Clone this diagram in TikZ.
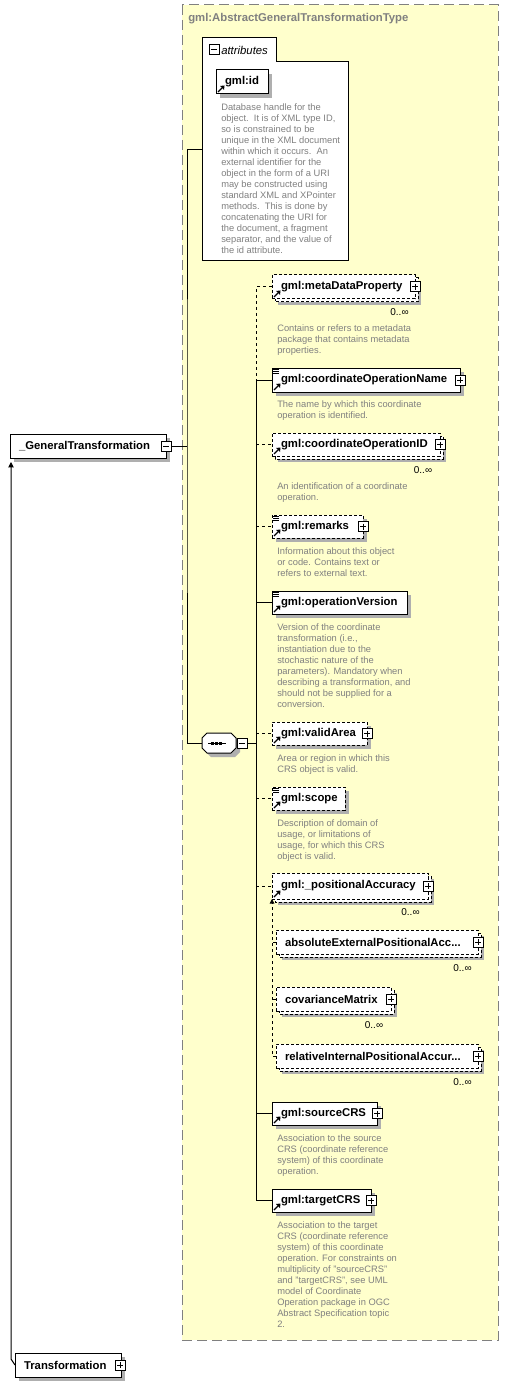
\documentclass[tikz,border=0pt]{standalone}
\usepackage{fontspec}
\setmainfont{Liberation Sans}
\usetikzlibrary{arrows.meta}
\definecolor{yel}{RGB}{255,255,204}
\definecolor{frame}{RGB}{128,128,128}
\definecolor{shgray}{RGB}{175,175,175}
\definecolor{desc}{RGB}{128,128,128}
\newcommand\elfont{\fontsize{8.5}{10}\selectfont\bfseries}
\newcommand\refmark[1]{%
 \draw[line width=0.9pt] ([shift={(2,-2)}]#1.south west) -- ([shift={(6,-6)}]#1.south west);
 \fill ([shift={(4,-8)}]#1.south west) -- ([shift={(8.5,-8.5)}]#1.south west) -- ([shift={(8,-4)}]#1.south west) -- cycle;}
\newcommand\simplemark[1]{%
 \foreach \dy in {1,3,5} {\draw[line width=0.6pt] ([shift={(1,\dy)}]#1.north west) -- ([shift={(7,\dy)}]#1.north west);}}
% shadow of a box: x, y, x2, y2 in px (front box), offset
\newcommand\boxshadow[5]{\fill[shgray] (#1+#5,#2+#5) rectangle (#3+#5,#4+#5);}
\newcommand\backbox[4]{\filldraw[fill=white, line width=0.75pt, dash pattern=on 2.25pt off 1.5pt] (#1+3,#2+3) rectangle (#3+3,#4+3);}
\tikzset{
 el/.style={draw, fill=white, anchor=north west, inner xsep=6.75pt, inner ysep=0pt, outer sep=0pt, align=left, font=\elfont, line width=0.75pt},
 opt/.style={dash pattern=on 2.25pt off 1.5pt},
 pbox/.style={draw, fill=white, minimum size=7.5pt, inner sep=0pt, line width=0.75pt,
   path picture={\draw[line width=0.75pt] ([xshift=1.5pt]path picture bounding box.west) -- ([xshift=-1.5pt]path picture bounding box.east);
                 \draw[line width=0.75pt] ([yshift=-1.5pt]path picture bounding box.north) -- ([yshift=1.5pt]path picture bounding box.south);}},
 mbox/.style={draw, fill=white, minimum size=7.5pt, inner sep=0pt, line width=0.75pt,
   path picture={\draw[line width=0.75pt] ([xshift=1.5pt]path picture bounding box.west) -- ([xshift=-1.5pt]path picture bounding box.east);}},
 dsc/.style={anchor=north west, inner sep=0pt, align=left, text=desc, font=\fontsize{7}{8.25}\selectfont},
 mult/.style={inner sep=0pt, font=\fontsize{7.5}{9}\selectfont},
 conn/.style={line width=0.75pt},
 oconn/.style={line width=0.75pt, dash pattern=on 2.25pt off 2.25pt},
}
\begin{document}
\begin{tikzpicture}[x=0.75pt,y=-0.75pt]
\useasboundingbox (0,0) rectangle (509,1387);
\filldraw[fill=yel, draw=frame, dash pattern=on 7.5pt off 3.75pt, line width=0.75pt] (182,5) rectangle (498,1340);
\filldraw[fill=white, line width=0.75pt] (202,261) -- (202,38) -- (276,38) -- (276,62) -- (348,62) -- (348,261) -- cycle;
\node[anchor=west, inner sep=0pt, text=frame, font=\elfont] (title) at (188,19) {gml:AbstractGeneralTransformationType};
% attributes
\node[mbox] (attrM) at (214,50) {};
\node[anchor=west, inner sep=0pt, font=\fontsize{8.5}{10}\selectfont\itshape] (attrT) at (221,50) {attributes};
\coordinate (attrW) at (202,150);
\boxshadow{216}{70}{268}{94}{4}
\node[el, text width=25.5pt, minimum height=18pt] (id) at (216,70) {gml:id};
\refmark{id}
\node[dsc] (idD) at (221,103) {Database handle for the\\object.\ \ It is of XML type ID,\\so is constrained to be\\unique in the XML document\\within which it occurs.\ \ An\\external identifier for the\\object in the form of a URI\\may be constructed using\\standard XML and XPointer\\methods.\ \ This is done by\\concatenating the URI for\\the document, a fragment\\separator, and the value of\\the id attribute.};
% root elements
\boxshadow{10}{434}{166}{458}{4}
\node[el, text width=103.5pt, minimum height=18pt] (gentr) at (10,434) {\_GeneralTransformation};
\node[mbox] (gentrM) at (gentr.east) {};
\boxshadow{15}{1353}{121}{1377}{4}
\node[el, text width=66pt, minimum height=18pt] (trans) at (15,1353) {Transformation};
\node[pbox] (transP) at ([xshift=-0.75pt]trans.east) {};
% sequence
\node[minimum width=25.5pt, minimum height=15pt, inner sep=0pt] (seq) at (219,743) {};
\fill[shgray] (211,737) -- (235,737) -- (240,742) -- (240,752) -- (235,757) -- (211,757) -- (206,752) -- (206,742) -- cycle;
\filldraw[fill=white, line width=0.75pt] (207,733) -- (231,733) -- (236,738) -- (236,748) -- (231,753) -- (207,753) -- (202,748) -- (202,738) -- cycle;
\draw[line width=0.75pt] (208,743) -- (226,743);
\foreach \dx in {212,216,220} {\fill (\dx-1.5,741.5) rectangle (\dx+1.5,744.5);}
\node[mbox] (seqM) at (242,743) {};
\coordinate (bus) at (187,446);
\coordinate (bus2) at (256,743);
\draw[conn] (gentrM.east) -- (bus);
\draw[conn] (attrW) -| (bus) |- (seq.west);
\draw[conn] (seqM.east) -- (bus2);
% children
\boxshadow{272}{275}{415}{299}{6}\backbox{272}{275}{415}{299}
\node[el, opt, text width=93.75pt, minimum height=18pt] (meta) at (272,275) {gml:metaDataProperty};
\node[pbox] (metaP) at (meta.east) {};
\refmark{meta}
\node[mult] (metaM) at (399.5,312) {0..∞};
\node[dsc] (metaD) at (277,324.5) {Contains or refers to a metadata\\package that contains metadata\\properties.};

\boxshadow{272}{368}{460}{392}{4}
\node[el, text width=127.5pt, minimum height=18pt] (conopname) at (272,368) {gml:coordinateOperationName};
\node[pbox] (conopnameP) at (conopname.east) {};
\refmark{conopname}\simplemark{conopname}
\node[dsc] (conopnameD) at (277,400.5) {The name by which this coordinate\\operation is identified.};

\boxshadow{272}{433}{440}{456}{6}\backbox{272}{433}{440}{456}
\node[el, opt, text width=112.5pt, minimum height=17.25pt] (conopid) at (272,433) {gml:coordinateOperationID};
\node[pbox] (conopidP) at (conopid.east) {};
\refmark{conopid}
\node[mult] (conopidM) at (423,470) {0..∞};
\node[dsc] (conopidD) at (277,482.5) {An identification of a coordinate\\operation.};

\boxshadow{272}{515}{363}{538}{4}
\node[el, opt, text width=54.75pt, minimum height=17.25pt] (remarks) at (272,515) {gml:remarks};
\node[pbox] (remarksP) at (remarks.east) {};
\refmark{remarks}\simplemark{remarks}
\node[dsc] (remarksD) at (277,547.5) {Information about this object\\or code. Contains text or\\refers to external text.};

\boxshadow{272}{591}{407}{614}{4}
\node[el, text width=87.75pt, minimum height=17.25pt] (opver) at (272,591) {gml:operationVersion};
\refmark{opver}\simplemark{opver}
\node[dsc] (opverD) at (277,623.5) {Version of the coordinate\\transformation (i.e.,\\instantiation due to the\\stochastic nature of the\\parameters). Mandatory when\\describing a transformation, and\\should not be supplied for a\\conversion.};

\boxshadow{272}{722}{367}{745}{4}
\node[el, opt, text width=57.75pt, minimum height=17.25pt] (validarea) at (272,722) {gml:validArea};
\node[pbox] (validareaP) at (validarea.east) {};
\refmark{validarea}
\node[dsc] (validareaD) at (277,754.5) {Area or region in which this\\CRS object is valid.};

\boxshadow{272}{787}{345}{810}{4}
\node[el, opt, text width=41.25pt, minimum height=17.25pt] (scope) at (272,787) {gml:scope};
\refmark{scope}\simplemark{scope}
\node[dsc] (scopeD) at (277,819.5) {Description of domain of\\usage, or limitations of\\usage, for which this CRS\\object is valid.};

\boxshadow{272}{873}{428}{899}{6}\backbox{272}{873}{428}{899}
\node[el, opt, text width=103.5pt, minimum height=19.5pt] (posacc) at (272,873) {gml:\_positionalAccuracy};
\node[pbox] (posaccP) at (posacc.east) {};
\refmark{posacc}
\node[mult] (posaccM) at (410.5,912) {0..∞};

\boxshadow{276}{930}{478}{954}{6}\backbox{276}{930}{478}{954}
\node[el, opt, text width=138pt, minimum height=18pt] (absext) at (276,930) {absoluteExternalPositionalAcc...};
\node[pbox] (absextP) at (absext.east) {};
\node[mult] (absextM) at (462.5,968) {0..∞};

\boxshadow{276}{987}{391}{1011}{6}\backbox{276}{987}{391}{1011}
\node[el, opt, text width=72.75pt, minimum height=18pt] (covmat) at (276,987) {covarianceMatrix};
\node[pbox] (covmatP) at (covmat.east) {};
\node[mult] (covmatM) at (374,1025) {0..∞};

\boxshadow{276}{1044}{478}{1068}{6}\backbox{276}{1044}{478}{1068}
\node[el, opt, text width=138pt, minimum height=18pt] (relint) at (276,1044) {relativeInternalPositionalAccur...};
\node[pbox] (relintP) at (relint.east) {};
\node[mult] (relintM) at (462.5,1082) {0..∞};

\boxshadow{272}{1102}{377}{1125}{4}
\node[el, text width=65.25pt, minimum height=17.25pt] (source) at (272,1102) {gml:sourceCRS};
\node[pbox] (sourceP) at (source.east) {};
\refmark{source}
\node[dsc] (sourceD) at (277,1134.5) {Association to the source\\CRS (coordinate reference\\system) of this coordinate\\operation.};

\boxshadow{272}{1189}{371}{1212}{4}
\node[el, text width=60.75pt, minimum height=17.25pt] (target) at (272,1189) {gml:targetCRS};
\node[pbox] (targetP) at (target.east) {};
\refmark{target}
\node[dsc] (targetD) at (277,1221.5) {Association to the target\\CRS (coordinate reference\\system) of this coordinate\\operation. For constraints on\\multiplicity of "sourceCRS"\\and "targetCRS", see UML\\model of Coordinate\\Operation package in OGC\\Abstract Specification topic\\2.};
% bus 2 connectors
\draw[oconn] (meta.west) -- (meta.west -| bus2) -- (conopname.west -| bus2);
\draw[conn] (conopname.west -| bus2) -- (target.west -| bus2);
\draw[conn] (conopname.west -| bus2) -- (conopname.west);
\draw[oconn] (conopid.west -| bus2) -- (conopid.west);
\draw[oconn] (remarks.west -| bus2) -- (remarks.west);
\draw[conn] (opver.west -| bus2) -- (opver.west);
\draw[oconn] (validarea.west -| bus2) -- (validarea.west);
\draw[oconn] (scope.west -| bus2) -- (scope.west);
\draw[oconn] (posacc.west -| bus2) -- (posacc.west);
\draw[conn] (source.west -| bus2) -- (source.west);
\draw[conn] (target.west -| bus2) -- (target.west);
% substitution group
\draw[oconn, -{Triangle[length=3.5pt,width=3.5pt]}] (relint.west) -| (posacc.south west);
\draw[oconn] (absext.west) -- (absext.west -| posacc.west);
\draw[oconn] (covmat.west) -- (covmat.west -| posacc.west);
% derivation
\coordinate (k) at (11,1359);
\draw[conn, -{Triangle[length=4pt,width=4pt]}, shorten >=3pt] (trans.west) -- (k) -- (k |- gentr.south);
\end{tikzpicture}
\end{document}
